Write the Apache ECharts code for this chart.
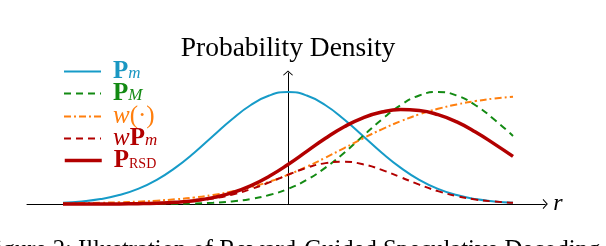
<!DOCTYPE html>
<html><head><meta charset="utf-8">
<script src="https://cdn.jsdelivr.net/npm/echarts@6/dist/echarts.min.js"></script>
<style>html,body{margin:0;padding:0;background:#fff}#c{width:606px;height:246px}</style>
</head><body><div id="c"></div>
<script>
// sample positions along r
const rValues = [-3,-2.75,-2.5,-2.25,-2,-1.75,-1.5,-1.25,-1,-0.75,-0.5,-0.25,0,0.25,0.5,0.75,1,1.25,1.5,1.75,2,2.25,2.5,2.75,3];
// P_m
const pmValues = [0.011,0.023,0.044,0.080,0.135,0.216,0.325,0.458,0.607,0.755,0.882,0.969,1.000,0.969,0.882,0.755,0.607,0.458,0.325,0.216,0.135,0.080,0.044,0.023,0.011];
// P_M
const pMValues = [0.000,0.000,0.000,0.000,0.000,0.001,0.002,0.005,0.011,0.023,0.044,0.080,0.135,0.216,0.325,0.458,0.607,0.755,0.882,0.969,1.000,0.969,0.882,0.755,0.607];
// w(.)
const wValues = [0.005,0.008,0.011,0.015,0.021,0.030,0.042,0.058,0.081,0.111,0.150,0.199,0.261,0.333,0.414,0.500,0.586,0.667,0.739,0.801,0.850,0.889,0.919,0.942,0.958];
// w P_m
const wPmValues = [0.000,0.000,0.000,0.001,0.003,0.006,0.014,0.027,0.049,0.083,0.132,0.193,0.261,0.323,0.365,0.377,0.355,0.305,0.240,0.173,0.115,0.071,0.040,0.022,0.011];
// P_RSD
const pRsdValues = [0.000,0.000,0.000,0.001,0.003,0.007,0.015,0.030,0.057,0.099,0.162,0.248,0.353,0.470,0.587,0.690,0.770,0.821,0.843,0.835,0.798,0.733,0.643,0.537,0.425];

const seriesNames = ['Pm','PM','w','wPm','PRSD'];
const legendLabels = ['{b|P}{s|m}','{b|P}{s|M}','{i|w}{n|(·)}','{i|w}{b|P}{s|m}','{b|P}{r|RSD}'];
const titleText = 'Probability Density';
const axisName = 'r';
const captionText = 'Figure 2: Illustration of Reward-Guided Speculative Decoding';

const CYAN = '#169bc8', GREEN = '#138a13', ORANGE = '#ff7f0e', RED = '#b20000';
const colors = [CYAN, GREEN, ORANGE, RED, RED];
const textColors = ['#1a97c2', '#138a13', '#ff7f0e', '#b20000', '#b20000'];
const pairs = arr => rValues.map((x, i) => [x, arr[i]]);
const SERIF = '"Liberation Serif", "DejaVu Serif", serif';
const chevron = 'path://M5,0 L10,4.5 L9.3,5.2 L5,1.4 L0.7,5.2 L0,4.5 Z';

const rich = {
  b: {fontFamily: SERIF, fontWeight: 'bold', fontSize: 25, lineHeight: 22},
  i: {fontFamily: SERIF, fontStyle: 'italic', fontSize: 25, lineHeight: 22},
  n: {fontFamily: SERIF, fontSize: 25, lineHeight: 22},
  s: {fontFamily: SERIF, fontStyle: 'italic', fontSize: 17, lineHeight: 7, verticalAlign: 'bottom'},
  r: {fontFamily: SERIF, fontSize: 14, lineHeight: 7, verticalAlign: 'bottom'}
};
const legendTops = [59, 81, 104, 126, 148];
const legends = seriesNames.map((nm, k) => ({
  left: 63, top: legendTops[k], padding: 0, orient: 'horizontal',
  itemWidth: 37, itemHeight: 22, selectedMode: false,
  lineStyle: {width: 'inherit'},
  itemStyle: {color: 'transparent', borderWidth: 0, opacity: 0},
  data: [{name: nm, textStyle: {color: textColors[k]}}],
  formatter: () => legendLabels[k],
  textStyle: {rich: rich, padding: [0, 0, 0, 7]}
}));

const styles = [
  {width: 2, type: 'solid'},
  {width: 2, type: [7, 5]},
  {width: 2, type: [7, 3, 2, 3]},
  {width: 2, type: [7, 5]},
  {width: 3.5, type: 'solid'}
];
const dataSets = [pmValues, pMValues, wValues, wPmValues, pRsdValues];

const chart = echarts.init(document.getElementById('c'), null, {renderer: 'canvas'});
chart.setOption({
  animation: false,
  backgroundColor: '#fff',
  grid: {left: 27, right: 60.75, top: 73, bottom: 42, containLabel: false},
  xAxis: {
    type: 'value', min: -3.48, max: 3.43,
    axisLine: {show: true, onZero: false, lineStyle: {color: '#000', width: 1}, symbol: ['none', chevron], symbolSize: [10, 5.2]},
    axisTick: {show: false}, axisLabel: {show: false}, splitLine: {show: false},
    name: axisName, nameLocation: 'end', nameGap: 8,
    nameTextStyle: {fontFamily: SERIF, fontStyle: 'italic', fontSize: 24, color: '#000', verticalAlign: 'middle', padding: [0, 0, 3, 0]}
  },
  yAxis: {
    type: 'value', min: 0, max: 1.17,
    axisLine: {show: true, onZero: true, lineStyle: {color: '#000', width: 1}, symbol: ['none', chevron], symbolSize: [10, 5.2]},
    axisTick: {show: false}, axisLabel: {show: false}, splitLine: {show: false},
    name: titleText, nameLocation: 'end', nameGap: 10,
    nameTextStyle: {fontFamily: SERIF, fontSize: 27.5, color: '#000', align: 'center'}
  },
  legend: legends,
  series: seriesNames.map((nm, k) => ({
    name: nm, type: 'line', data: pairs(dataSets[k]), smooth: true,
    symbol: 'none', showSymbol: false, clip: false,
    lineStyle: {color: colors[k], width: styles[k].width, type: styles[k].type},
    itemStyle: {color: colors[k]}, z: 2 + k
  })),
  graphic: [{
    type: 'text', x: -18, y: 238,
    style: {text: captionText, font: '24.7px ' + SERIF, fill: '#000', verticalAlign: 'top'}
  }]
});
</script></body></html>
